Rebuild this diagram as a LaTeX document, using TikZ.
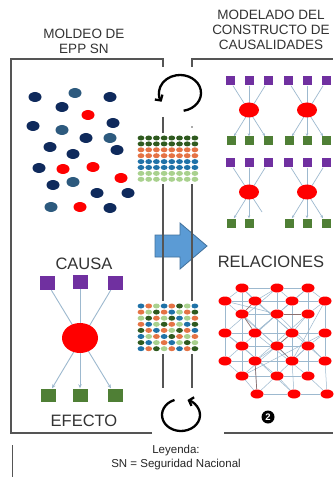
\documentclass[tikz,border=0pt]{standalone}
\usepackage{fontspec}
\setmainfont{Liberation Sans}
\usetikzlibrary{arrows.meta,shapes.geometric}
\pgfdeclarelayer{bg}
\pgfdeclarelayer{wires}
\pgfsetlayers{bg,wires,main}

\definecolor{navy}{HTML}{0F2A5C}
\definecolor{steel}{HTML}{2D5A7E}
\definecolor{dotred}{HTML}{FF0000}
\definecolor{purp}{HTML}{7030A0}
\definecolor{leaf}{HTML}{4F7F35}
\definecolor{wire}{HTML}{9DB9CF}
\definecolor{darkwire}{HTML}{8A6F6F}
\definecolor{frame}{HTML}{555555}
\definecolor{txt}{HTML}{333333}
\definecolor{arrowfill}{HTML}{5B9BD5}
\definecolor{arrowline}{HTML}{41719C}
% dot matrix palette
\definecolor{mD}{HTML}{2F5A1F}
\definecolor{mO}{HTML}{E57345}
\definecolor{mB}{HTML}{1F72A8}
\definecolor{mL}{HTML}{A9D18E}

\begin{document}
\begin{tikzpicture}[x=1pt,y=-1pt,
  blob/.style={ellipse,inner sep=0pt,minimum width=13pt,minimum height=10pt},
  hub/.style={ellipse,inner sep=0pt,fill=dotred,minimum width=20pt,minimum height=15pt},
  bighub/.style={ellipse,inner sep=0pt,fill=dotred,minimum width=36pt,minimum height=30pt},
  cause/.style={rectangle,inner sep=0pt,fill=purp,minimum size=9pt},
  effect/.style={rectangle,inner sep=0pt,fill=leaf,minimum size=9pt},
  bigcause/.style={rectangle,inner sep=0pt,fill=purp,minimum width=15pt,minimum height=14pt},
  bigeffect/.style={rectangle,inner sep=0pt,fill=leaf,minimum width=15pt,minimum height=13pt},
  link/.style={wire,line width=0.7pt,-{Stealth[length=3pt,width=2.5pt]}},
  biglink/.style={wire,line width=0.9pt,-{Stealth[length=4pt,width=3.5pt]}},
  latt/.style={ellipse,inner sep=0pt,fill=dotred,minimum width=13pt,minimum height=9pt},
  lat/.style={wire,line width=0.5pt},
  latdark/.style={darkwire,line width=0.7pt},
  framed/.style={frame,line width=1.2pt},
  title/.style={txt,align=center,inner sep=0pt,font=\fontsize{13.5}{15}\selectfont},
  label/.style={txt,inner sep=0pt,font=\fontsize{16.5}{18}\selectfont},
  legend/.style={black!85,inner sep=0pt,font=\fontsize{11.5}{13}\selectfont},
  cycle/.style={line width=2.3pt,-{Straight Barb[length=4pt,width=9pt]}}]

\begin{pgfonlayer}{bg}
  \fill[white] (0,0) rectangle (333,478);
\end{pgfonlayer}
\useasboundingbox (0,0) rectangle (333,478);

% headings
\node[title] (hleft) at (84,41) {MOLDEO DE\\EPP SN};
\node[title] (hright) at (271,30) {MODELADO DEL\\CONSTRUCTO DE\\CAUSALIDADES};

% scattered items of the left panel
\foreach \x/\y/\c [count=\i] in {35/97/navy,75/93/steel,110/97/navy,62/107/navy,
  88/115/dotred,33/126/navy,62/130/steel,113/123/navy,86/138/navy,110/138/steel,
  50/147/navy,117/150/navy,73/154/navy,39/168/navy,63/169/dotred,93/167/dotred,
  121/178/dotred,53/185/navy,73/182/steel,97/193/navy,128/193/navy,51/207/steel,
  80/207/dotred,110/208/navy}
  \node[blob,fill=\c] (s\i) at (\x,\y) {};

% cause -> effect model
\node[label] (causa) at (84,264) {CAUSA};
\node[label] (efecto) at (84,421) {EFECTO};
\node[bighub] (bh) at (80,338) {};
\node[bigcause] (bp1) at (47,283) {};
\node[bigcause] (bp2) at (80,282) {};
\node[bigcause] (bp3) at (115,283) {};
\node[bigeffect] (bg1) at (48,395) {};
\node[bigeffect] (bg2) at (80,395) {};
\node[bigeffect] (bg3) at (115,395) {};
\begin{pgfonlayer}{wires}
  \draw[biglink] (bp1) -- (bg3);
  \draw[biglink] (bp2) -- (bg2);
  \draw[biglink] (bp3) -- (bg1);
\end{pgfonlayer}

% four small causal constructs
\foreach \id/\hx/\hy in {na/249/110,nb/307/110,nc/249/192,nd/307/192} {
  \node[hub] (\id-h) at (\hx,\hy) {};
  \foreach \k/\dx in {1/-19,2/0,3/19}
    \node[cause] (\id-p\k) at (\hx+\dx,\hy-29) {};
}
\foreach \id/\hx/\hy in {na/249/110,nb/307/110,nd/307/192}
  \foreach \k/\dx in {1/-18,2/0,3/19}
    \node[effect] (\id-g\k) at (\hx+\dx,\hy+31) {};
\node[effect] (nc-g1) at (231,223) {};
\node[effect] (nc-g2) at (249,223) {};
\coordinate (nc-g3) at (262,212);
\begin{pgfonlayer}{wires}
  \foreach \id in {na,nb,nd} {
    \draw[link] (\id-p1) -- (\id-g3);
    \draw[link] (\id-p2) -- (\id-g2);
    \draw[link] (\id-p3) -- (\id-g1);
  }
  \draw[wire,line width=0.7pt] (nc-p1) -- (nc-g3);
  \draw[link] (nc-p2) -- (nc-g2);
  \draw[link] (nc-p3) -- (nc-g1);
\end{pgfonlayer}

% network of relations
\node[label] (rel) at (271,262) {RELACIONES};
\foreach \n/\x/\y in {a1/242/288,a2/277/288,a3/308/288,
  b1/225/301,b2/255/301,b3/292/301,b4/325/301,
  c1/242/314,c2/277/314,c3/308/314,
  d1/225/333,d2/255/333,d3/292/333,d4/325/333,
  e1/242/346,e2/277/346,e3/308/346,
  f1/225/361,f2/255/361,f3/292/361,f4/325/361,
  g1/242/376,g2/277/376,g3/308/376,
  h1/257/394,h2/294/394,h3/327/394}
  \node[latt] (\n) at (\x,\y) {};
\begin{pgfonlayer}{wires}
  \foreach \p/\q in {a1/a2,a2/a3,b1/b2,b2/b3,b3/b4,c1/c2,c2/c3,d1/d2,d2/d3,d3/d4,
    e1/e2,e2/e3,f1/f2,f2/f3,f3/f4,g1/g2,g2/g3,h1/h2,h2/h3,
    a1/c1,c1/e1,e1/g1,a2/c2,c2/e2,e2/g2,a3/c3,c3/e3,e3/g3,
    b1/d1,d1/f1,b2/d2,d2/f2,b3/d3,d3/f3,b4/d4,d4/f4,f2/h1,f3/h2,f4/h3,
    a1/b1,a1/b2,a2/b2,a2/b3,a3/b3,a3/b4,c2/d2,c3/d3,
    e1/f1,e2/f2,e3/f3,e3/f4,g1/h1,g2/h2,g3/h3,b4/c3,d1/e1,d4/e3,f1/g1,
    a1/d3,b2/e3,c1/f3,d1/g2,b3/e1,c3/f2,e1/h2,d4/g1,a2/d1,b1/e2,
    c2/f4,a3/d2,e3/h1,b4/f3,d2/g3,b1/c2,d3/g1}
    \draw[lat] (\p) -- (\q);
  \foreach \p/\q in {b2/c1,c1/d2,c2/c3,d3/e2,f2/h1,e2/f3}
    \draw[latdark] (\p) -- (\q);
\end{pgfonlayer}
\node[circle,fill=black,inner sep=0pt,minimum size=13pt,text=white,
  font=\bfseries\fontsize{9.5}{9.5}\selectfont] (two) at (268,417) {2};

% transition arrow
\draw[arrowline,fill=arrowfill,line width=0.8pt]
  (155,235) -- (180,235) -- (180,223) -- (207,246) -- (180,269)
  -- (180,257) -- (155,257) -- cycle;

% panel frames
\draw[framed] (152,433) -- (11,433) -- (11,59) -- (163,59) -- (163,67);
\draw[framed] (192,67) -- (192,59) -- (333,59);
\draw[framed] (224,433) -- (333,433);
\draw[framed] (163,117) -- (163,388);
\draw[framed] (192,135) -- (192,388);
\fill[frame] (192,127) circle (0.9pt);

% data matrices
\fill[white] (136,133) rectangle (199,184);
\fill[white] (136,301) rectangle (199,354);
\foreach \r/\c in {1/mD,2/mD,3/mO,4/mO,5/mB,6/mB,7/mL,8/mL}
  \foreach \k in {0,...,7}
    \fill[\c] ({141+7.7*\k},{138+5.9*(\r-1)}) ellipse (3.4pt and 2.5pt);
\foreach \row [count=\r] in {{B,O,L,B,O,D,L,B},{O,L,D,O,B,L,O,D},
  {L,D,O,L,D,B,L,O},{O,B,L,D,O,L,B,D},{D,O,B,O,L,D,O,B},
  {B,L,O,B,D,O,L,O},{D,B,L,O,B,L,D,L},{B,O,D,L,O,B,O,D}}
  \foreach \k [count=\c] in \row
    \fill[m\k] ({141+7.7*(\c-1)},{306+6.1*(\r-1)}) ellipse (3.4pt and 2.5pt);

% cycle arrows
\draw[cycle] ([shift={(-80:21pt and 18pt)}]180,93)
  arc[start angle=-80,end angle=209,x radius=21pt,y radius=18pt];
\draw[cycle] ([shift={(110:19pt and 16pt)}]181,415)
  arc[start angle=110,end angle=430,x radius=19pt,y radius=16pt];

% legend
\draw[framed,line width=1pt] (12,445) -- (12,477);
\node[legend] (ley) at (176,451) {Leyenda:};
\node[legend] (sn) at (176,465) {SN = Seguridad Nacional};
\end{tikzpicture}
\end{document}
